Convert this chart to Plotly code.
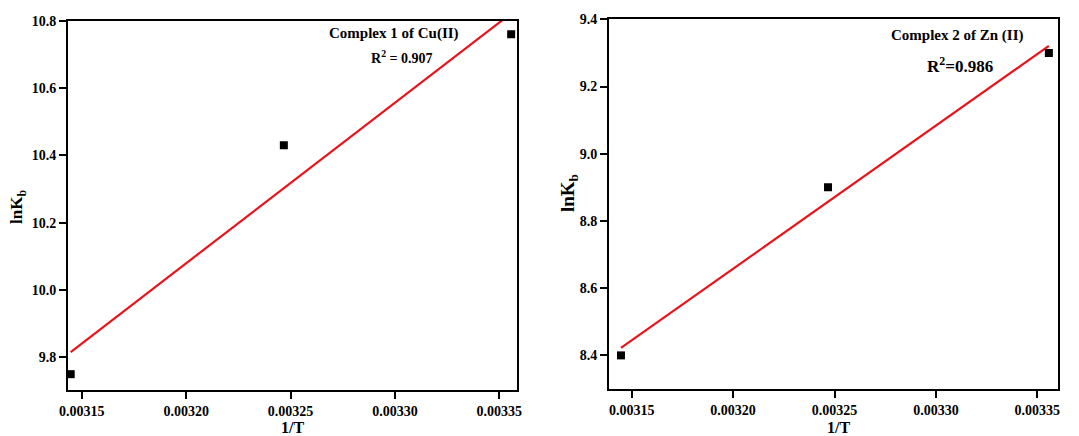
import numpy as np
import plotly.graph_objects as go
from plotly.subplots import make_subplots

W, H = 1079, 436

# 1/T values for the three temperatures
inv_T = [0.0031447, 0.0032468, 0.0033557]

# lnKb values for each complex
lnkb_cu = [9.75, 10.43, 10.76]
lnkb_zn = [8.40, 8.90, 9.30]

x_ticks = [0.00315, 0.00320, 0.00325, 0.00330, 0.00335]
x_tick_text = ["0.00315", "0.00320", "0.00325", "0.00330", "0.00335"]
y_ticks_cu = [9.8, 10.0, 10.2, 10.4, 10.6, 10.8]
y_ticks_zn = [8.4, 8.6, 8.8, 9.0, 9.2, 9.4]

label_cu = "Complex 1 of Cu(II)"
label_zn = "Complex 2 of Zn (II)"
r2_cu = "R<sup>2</sup> = 0.907"
r2_zn = "R<sup>2</sup>=0.986"

FONT = "Liberation Serif"


def px_x(p):
    return p / W


def px_y(p):
    return 1 - p / H


fig = make_subplots(rows=1, cols=2)

for col, yv in ((1, lnkb_cu), (2, lnkb_zn)):
    slope, icpt = np.polyfit(inv_T, yv, 1)
    fit = [slope * x + icpt for x in inv_T]
    fig.add_trace(go.Scatter(x=inv_T, y=fit, mode="lines",
                             line=dict(color="#e8141b", width=2.2),
                             showlegend=False, hoverinfo="skip"), row=1, col=col)
    fig.add_trace(go.Scatter(x=inv_T, y=yv, mode="markers",
                             marker=dict(symbol="square", size=8, color="black"),
                             showlegend=False), row=1, col=col)

axis_common = dict(showline=True, linecolor="black", linewidth=2, mirror=True,
                   ticks="outside", tickcolor="black", tickwidth=2, ticklen=7,
                   showgrid=False, zeroline=False,
                   tickfont=dict(family=FONT, size=14, color="black", weight="bold"),
                   automargin=False)

fig.update_xaxes(**axis_common, tickvals=x_ticks, ticktext=x_tick_text)
fig.update_yaxes(**axis_common)

fig.update_layout(
    xaxis=dict(domain=[px_x(68), px_x(517)], range=[0.0031434, 0.0033585]),
    yaxis=dict(domain=[px_y(390), px_y(20.7)], range=[9.703, 10.8],
               tickvals=y_ticks_cu, ticktext=[f"{v:.1f}" for v in y_ticks_cu]),
    xaxis2=dict(domain=[px_x(609), px_x(1058)], range=[0.0031388, 0.0033602]),
    yaxis2=dict(domain=[px_y(389), px_y(19.3)], range=[8.3, 9.4],
                tickvals=y_ticks_zn, ticktext=[f"{v:.1f}" for v in y_ticks_zn]),
)

annots = [
    dict(text="1/T", x=px_x(292), y=px_y(427), size=16, angle=0),
    dict(text="1/T", x=px_x(838), y=px_y(427), size=16, angle=0),
    dict(text="lnK<sub>b</sub>", x=px_x(18), y=px_y(207), size=17, angle=-90),
    dict(text="lnK<sub>b</sub>", x=px_x(569), y=px_y(193), size=19, angle=-90),
    dict(text=label_cu, x=px_x(394), y=px_y(33), size=15, angle=0),
    dict(text=r2_cu, x=px_x(402), y=px_y(57), size=14, angle=0),
    dict(text=label_zn, x=px_x(957), y=px_y(35), size=15, angle=0),
    dict(text=r2_zn, x=px_x(960), y=px_y(65), size=17, angle=0),
]
for a in annots:
    fig.add_annotation(text=a["text"], x=a["x"], y=a["y"], xref="paper", yref="paper",
                       xanchor="center", yanchor="middle", showarrow=False,
                       textangle=a["angle"],
                       font=dict(family=FONT, size=a["size"], color="black",
                                 weight="bold"))

fig.update_layout(width=W, height=H, margin=dict(l=0, r=0, t=0, b=0),
                  paper_bgcolor="white", plot_bgcolor="white")

fig.write_html("out.html")
